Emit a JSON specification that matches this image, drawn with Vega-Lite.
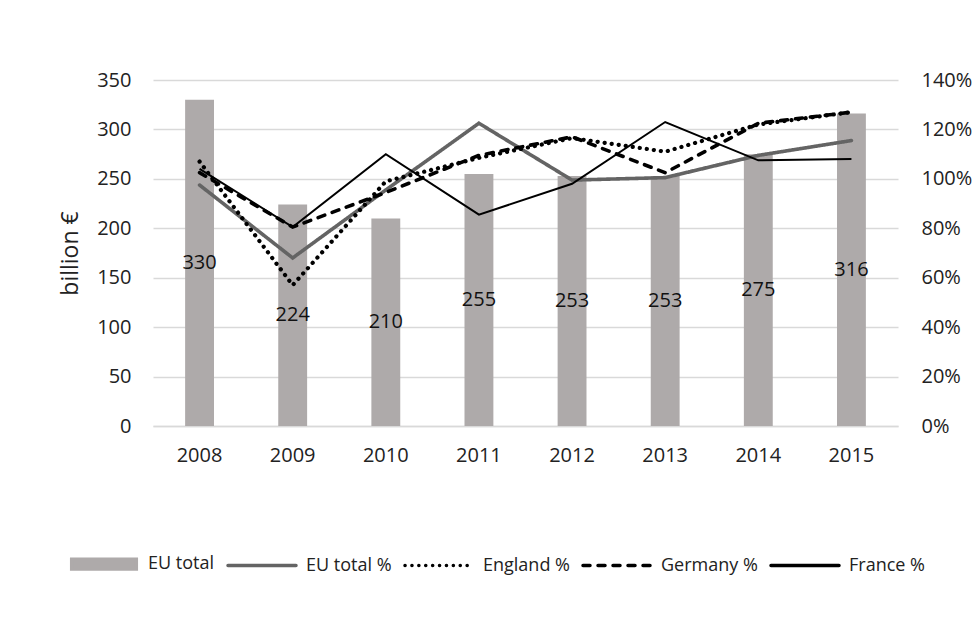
{
  "$schema": "https://vega.github.io/schema/vega-lite/v6.json",
  "width": 745,
  "height": 346,
  "autosize": {"type": "none"},
  "padding": {"left": 153, "top": 80, "right": 78, "bottom": 193},
  "background": "white",
  "config": {
    "font": "Open Sans",
    "view": {"stroke": null},
    "axis": {"labelFont": "Open Sans", "labelFontSize": 20, "labelColor": "#222222", "ticks": false, "domain": false}
  },
  "datasets": {
    "bars": [
      {"year": "2008", "series": "EU total", "total": 330},
      {"year": "2009", "series": "EU total", "total": 224},
      {"year": "2010", "series": "EU total", "total": 210},
      {"year": "2011", "series": "EU total", "total": 255},
      {"year": "2012", "series": "EU total", "total": 253},
      {"year": "2013", "series": "EU total", "total": 253},
      {"year": "2014", "series": "EU total", "total": 275},
      {"year": "2015", "series": "EU total", "total": 316}
    ],
    "lines": [
      {"year": "2008", "series": "EU total %", "pct": 0.975},
      {"year": "2009", "series": "EU total %", "pct": 0.68},
      {"year": "2010", "series": "EU total %", "pct": 0.955},
      {"year": "2011", "series": "EU total %", "pct": 1.225},
      {"year": "2012", "series": "EU total %", "pct": 0.995},
      {"year": "2013", "series": "EU total %", "pct": 1.005},
      {"year": "2014", "series": "EU total %", "pct": 1.095},
      {"year": "2015", "series": "EU total %", "pct": 1.155},
      {"year": "2008", "series": "England %", "pct": 1.07},
      {"year": "2009", "series": "England %", "pct": 0.57},
      {"year": "2010", "series": "England %", "pct": 0.99},
      {"year": "2011", "series": "England %", "pct": 1.085},
      {"year": "2012", "series": "England %", "pct": 1.165},
      {"year": "2013", "series": "England %", "pct": 1.11},
      {"year": "2014", "series": "England %", "pct": 1.22},
      {"year": "2015", "series": "England %", "pct": 1.27},
      {"year": "2008", "series": "Germany %", "pct": 1.025},
      {"year": "2009", "series": "Germany %", "pct": 0.805},
      {"year": "2010", "series": "Germany %", "pct": 0.945},
      {"year": "2011", "series": "Germany %", "pct": 1.095},
      {"year": "2012", "series": "Germany %", "pct": 1.17},
      {"year": "2013", "series": "Germany %", "pct": 1.025},
      {"year": "2014", "series": "Germany %", "pct": 1.225},
      {"year": "2015", "series": "Germany %", "pct": 1.27},
      {"year": "2008", "series": "France %", "pct": 1.04},
      {"year": "2009", "series": "France %", "pct": 0.805},
      {"year": "2010", "series": "France %", "pct": 1.10},
      {"year": "2011", "series": "France %", "pct": 0.855},
      {"year": "2012", "series": "France %", "pct": 0.98},
      {"year": "2013", "series": "France %", "pct": 1.23},
      {"year": "2014", "series": "France %", "pct": 1.075},
      {"year": "2015", "series": "France %", "pct": 1.08}
    ]
  },
  "layer": [
    {
      "data": {"name": "bars"},
      "mark": {"type": "bar"},
      "encoding": {
        "x": {"field": "year", "type": "ordinal", "scale": {"paddingInner": 0.69, "paddingOuter": 0.345},
              "axis": {"title": null, "labelAngle": 0, "labelPadding": 19, "domain": true, "domainColor": "#D9D9D9", "domainWidth": 1.5}},
        "y": {"field": "total", "type": "quantitative", "scale": {"domain": [0, 350]},
              "axis": {"orient": "left", "title": "billion €", "titleFont": "Open Sans", "titleFontSize": 23, "titleFontWeight": "normal", "titleColor": "#222222", "titlePadding": 14, "values": [0, 50, 100, 150, 200, 250, 300, 350], "labelPadding": 22, "grid": true, "gridColor": "#D9D9D9", "gridWidth": 1.5}},
        "color": {"field": "series", "type": "nominal",
                  "scale": {"domain": ["EU total", "EU total %", "England %", "Germany %", "France %"], "range": ["#AEAAAA", "#646464", "#000000", "#000000", "#000000"]},
                  "legend": {
                    "title": null, "orient": "none", "legendX": -85, "legendY": 448, "direction": "horizontal",
                    "labelFont": "Open Sans", "labelFontSize": 18, "labelColor": "#222222",
                    "symbolType": "M-1,0H1", "symbolSize": 4624, "symbolStrokeWidth": 3.5, "labelOffset": 8, "columnPadding": 6,
                    "encode": {
                      "symbols": {
                        "update": {
                          "shape": [{"test": "datum.value === 'EU total'", "value": "M-0.95,-0.14H0.95V0.14H-0.95Z"}, {"value": "M-1,0H1"}],
                          "fill": [{"test": "datum.value === 'EU total'", "value": "#AEAAAA"}, {"value": "transparent"}],
                          "strokeDash": [{"test": "datum.value === 'England %'", "value": [0.1, 6.8]}, {"test": "datum.value === 'Germany %'", "value": [7, 8]}, {"value": [1, 0]}],
                          "strokeWidth": {"value": 3.5},
                          "strokeCap": {"value": "round"}
                        }
                      }
                    }
                  }}
      }
    },
    {
      "data": {"name": "bars"},
      "mark": {"type": "text", "font": "Open Sans", "fontSize": 20, "color": "#111111", "baseline": "middle"},
      "encoding": {
        "x": {"field": "year", "type": "ordinal"},
        "y": {"field": "total", "type": "quantitative", "scale": {"domain": [0, 700]}, "axis": null},
        "text": {"field": "total", "type": "quantitative"}
      }
    },
    {
      "data": {"name": "lines"},
      "transform": [{"filter": "datum.series === 'EU total %' || datum.series === 'Germany %'"}],
      "mark": {"type": "line", "strokeCap": "round", "strokeWidth": 3.6},
      "encoding": {
        "x": {"field": "year", "type": "ordinal"},
        "y": {"field": "pct", "type": "quantitative", "scale": {"domain": [0, 1.4]},
              "axis": {"orient": "right", "title": null, "format": ".0%", "values": [0, 0.2, 0.4, 0.6, 0.8, 1.0, 1.2, 1.4], "labelPadding": 23, "grid": false}},
        "color": {"field": "series", "type": "nominal"},
        "strokeDash": {"field": "series", "type": "nominal",
                       "scale": {"domain": ["EU total %", "Germany %"], "range": [[1, 0], [7, 8]]},
                       "legend": null}
      }
    },
    {
      "data": {"name": "lines"},
      "transform": [{"filter": "datum.series === 'England %'"}],
      "mark": {"type": "line", "strokeCap": "round", "strokeWidth": 4.2, "strokeDash": [0.1, 7], "color": "#000000"},
      "encoding": {
        "x": {"field": "year", "type": "ordinal"},
        "y": {"field": "pct", "type": "quantitative", "scale": {"domain": [0, 1.4]}, "axis": null}
      }
    },
    {
      "data": {"name": "lines"},
      "transform": [{"filter": "datum.series === 'France %'"}],
      "mark": {"type": "line", "strokeWidth": 2, "color": "#000000"},
      "encoding": {
        "x": {"field": "year", "type": "ordinal"},
        "y": {"field": "pct", "type": "quantitative", "scale": {"domain": [0, 1.4]}, "axis": null}
      }
    }
  ],
  "resolve": {"scale": {"y": "independent"}, "axis": {"y": "independent"}}
}
